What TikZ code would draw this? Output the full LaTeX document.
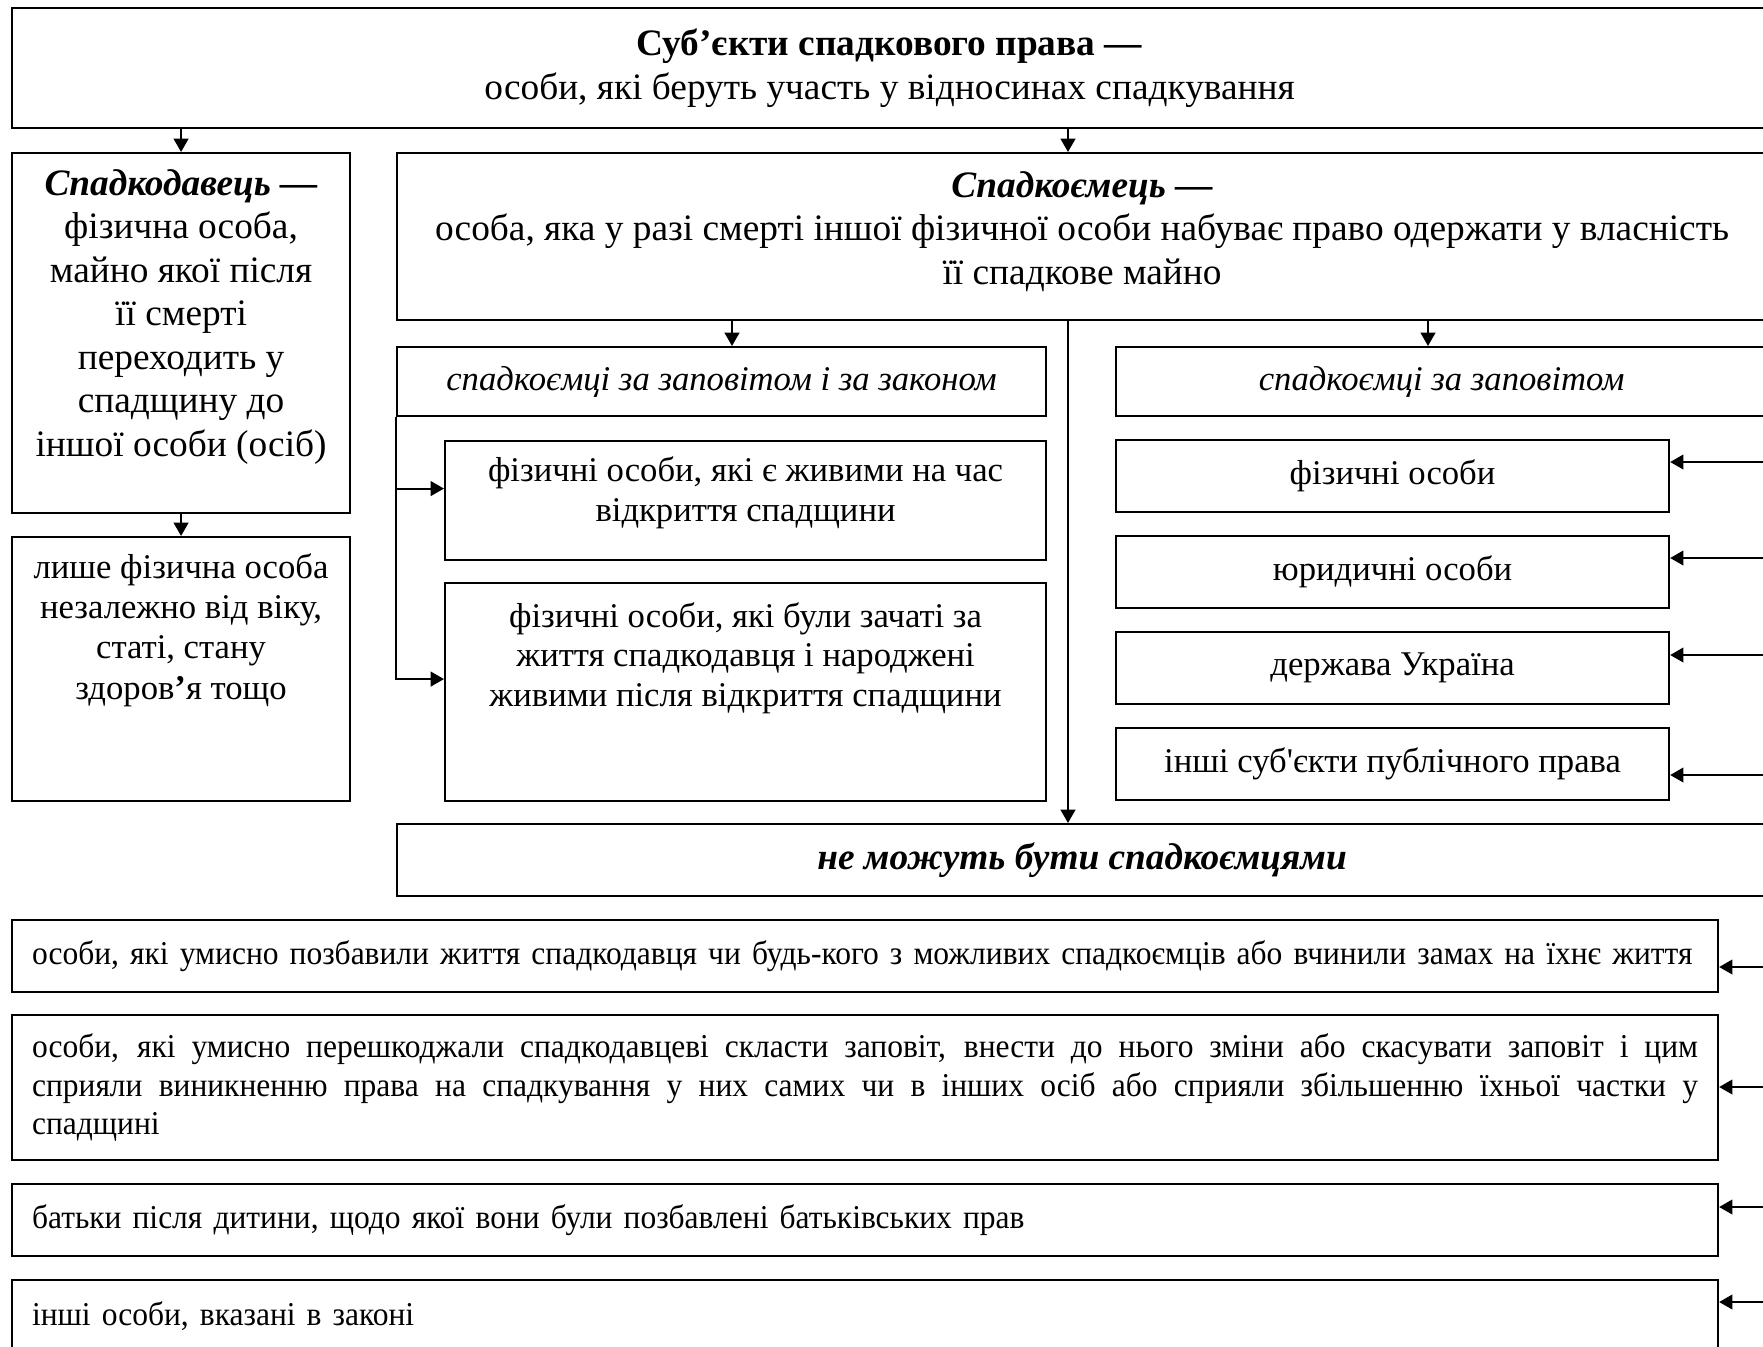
\documentclass[tikz,border=0pt]{standalone}
\usepackage{fontspec}
\setmainfont{Liberation Serif}
\newfontfamily\narrowfont[FakeStretch=0.945]{Liberation Serif}
\usetikzlibrary{positioning,arrows.meta}
\newlength\pxl
\setlength\pxl{0.375pt}
\tikzset{
  box/.style={draw, line width=0.8pt, anchor=north west, inner sep=0pt, align=center},
  txt/.style={inner sep=0pt, align=center},
  arr/.style={line width=0.8pt, -{Triangle[length=5pt,width=5.5pt]}},
  big/.style={font=\fontsize{14}{16.3}\selectfont},
  mid/.style={font=\fontsize{13}{15.1}\selectfont},
  small/.style={font=\narrowfont\fontsize{12.5}{14.6}\selectfont},
  bottombox/.style={box, small, minimum width=1706\pxl, minimum height=72\pxl,
    text width=1666\pxl, inner xsep=20\pxl, align=left},
}
\begin{document}
\begin{tikzpicture}[x=0.375pt, y=-0.375pt, big]
\useasboundingbox (0,0) rectangle (1763,1347);
% top
\node[box, minimum width=1755\pxl, minimum height=120\pxl] (subj) at (11,7)
  {\textbf{Суб’єкти спадкового права —}\\особи, які беруть участь у відносинах спадкування};
% left column
\node[box, minimum width=338\pxl, minimum height=360\pxl] (donor) at (11,152) {};
\node[txt, below=17\pxl of donor.north] (donortxt)
  {\textbf{\textit{Спадкодавець —}}\\фізична особа,\\майно якої після\\її смерті\\переходить у\\спадщину до\\іншої особи (осіб)};
\node[box, minimum width=338\pxl, minimum height=264\pxl] (rest) at (11,536) {};
\node[txt, mid, below=17\pxl of rest.north] (resttxt)
  {лише фізична особа\\незалежно від віку,\\статі, стану\\здоров\textbf{’}я тощо};
% heir
\node[box, minimum width=1370\pxl, minimum height=167\pxl] (heir) at (396,152) {};
\node[txt, below=19\pxl of heir.north] (heirtxt)
  {\textbf{\textit{Спадкоємець —}}\\особа, яка у разі смерті іншої фізичної особи набуває право одержати у власність\\її спадкове майно};
\node[box, mid, minimum width=649\pxl, minimum height=69\pxl] (both) at (396,346)
  {\textit{спадкоємці за заповітом і за законом}};
\node[box, minimum width=601\pxl, minimum height=119\pxl] (alive) at (444,440) {};
\node[txt, mid, below=16\pxl of alive.north] (alivetxt)
  {фізичні особи, які є живими на час\\відкриття спадщини};
\node[box, minimum width=601\pxl, minimum height=218\pxl] (conceived) at (444,582) {};
\node[txt, below=20\pxl of conceived.north, font=\fontsize{13}{14.8}\selectfont] (conceivedtxt)
  {фізичні особи, які були зачаті за\\життя спадкодавця і народжені\\живими після відкриття спадщини};
\node[box, mid, minimum width=651\pxl, minimum height=69\pxl] (will) at (1115,346)
  {\textit{спадкоємці за заповітом}};
\node[box, mid, minimum width=553\pxl, minimum height=72\pxl] (p1) at (1115,439) {фізичні особи};
\node[box, mid, minimum width=553\pxl, minimum height=72\pxl] (p2) at (1115,535) {юридичні особи};
\node[box, mid, minimum width=553\pxl, minimum height=72\pxl] (p3) at (1115,631) {держава Україна};
\node[box, mid, minimum width=553\pxl, minimum height=72\pxl] (p4) at (1115,727) {інші суб\textquotesingle єкти публічного права};
\node[box, minimum width=1370\pxl, minimum height=72\pxl] (cannot) at (396,823)
  {\textbf{\textit{не можуть бути спадкоємцями}}};
% bottom
\node[bottombox] (b1) at (11,919)
  {особи, які умисно позбавили життя спадкодавця чи будь-кого з можливих спадкоємців або вчинили замах на їхнє життя};
\node[bottombox, minimum height=145\pxl, align=justify] (b2) at (11,1014)
  {особи, які умисно перешкоджали спадкодавцеві скласти заповіт, внести до нього зміни або скасувати заповіт і цим\linebreak
   сприяли виникненню права на спадкування у них самих чи в інших осіб або сприяли збільшенню їхньої частки у\linebreak
   спадщині};
\node[bottombox] (b3) at (11,1183)
  {батьки після дитини, щодо якої вони були позбавлені батьківських прав};
\node[bottombox] (b4) at (11,1279)
  {інші особи, вказані в законі};

% arrows
\coordinate (spine) at (1068,0);
\coordinate (bothin) at (732,0);
\coordinate (willin) at (1428,0);
\draw[arr] (subj.south -| donor.north) -- (donor.north);
\draw[arr] (donor.south) -- (rest.north);
\draw[arr] (subj.south -| spine) -- (heir.north -| spine);
\draw[arr] (heir.south -| spine) -- (cannot.north -| spine);
\draw[arr] (heir.south -| bothin) -- (both.north -| bothin);
\draw[arr] (heir.south -| willin) -- (will.north -| willin);
\draw[arr] (both.south west) |- ([yshift=12\pxl]alive.west);
\draw[arr] (both.south west) |- ([yshift=13\pxl]conceived.west);
\foreach \n/\y in {p1/462, p2/558, p3/655, p4/775, b1/967, b2/1087, b3/1207, b4/1302}{
  \coordinate (in-\n) at (1790,\y);
  \draw[arr] (in-\n) -- (in-\n -| \n.east);
}
\end{tikzpicture}
\end{document}
